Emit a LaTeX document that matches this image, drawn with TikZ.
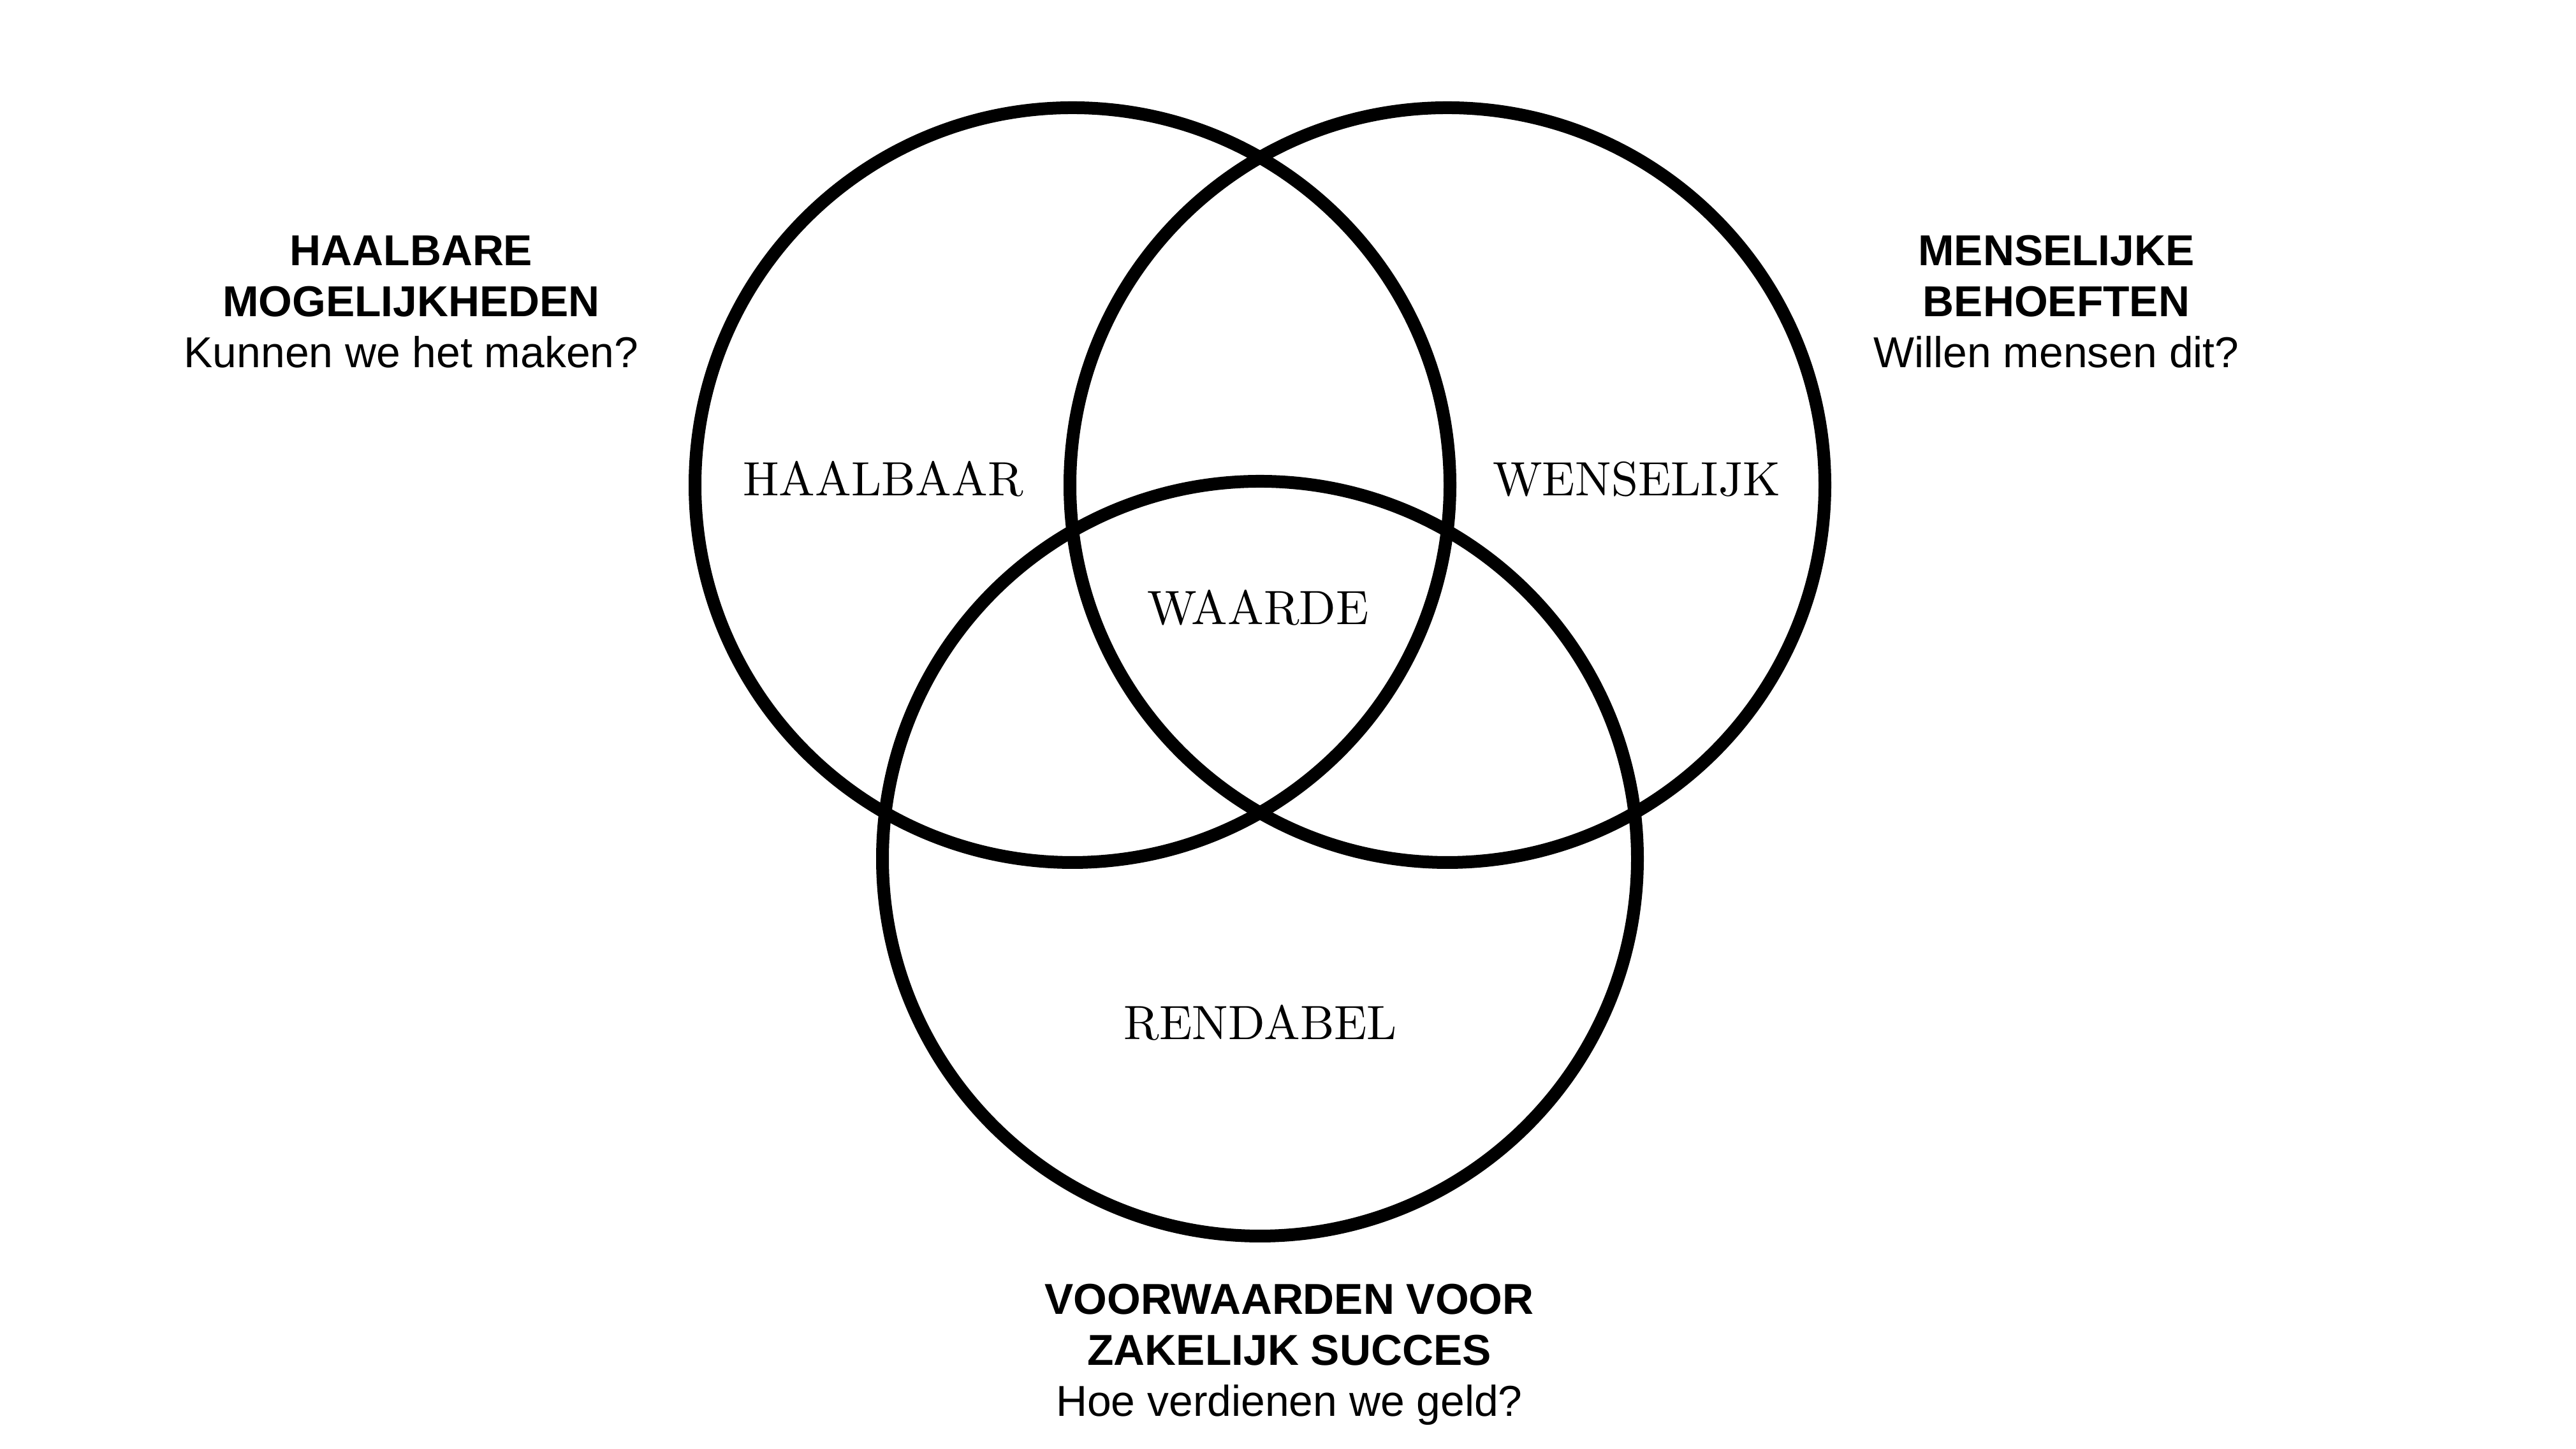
\documentclass[tikz,border=0pt]{standalone}
\usepackage{fontspec}
\newfontfamily\labelfont{Liberation Sans}
\newfontfamily\termfont{lmroman10-regular}[Extension=.otf]
\usepackage{tikz}
\usetikzlibrary{positioning}

\begin{document}
\begin{tikzpicture}[circ/.style = {draw, circle, line width=2mm, minimum size=11.84cm, inner sep=0pt},
                    term/.style = {font=\termfont\fontsize{21.5}{26}\selectfont, anchor=base, inner sep=0pt},
                    question/.style = {font=\labelfont\fontsize{19.3}{22.8}\selectfont, align=center, anchor=base, inner sep=0pt}]

\useasboundingbox (0,0) rectangle (40.4,22.73);
% Circles
\node (haalbaar) [circ] at (16.82,15.12) {};
\node (wenselijk) [circ] at (22.70,15.12) {};
\node (rendabel) [circ] at (19.76,9.26) {};

% Terms
\node (thaalbaar) [term] at (13.85,14.95) {HAALBAAR};
\node (twenselijk) [term] at (25.67,14.95) {WENSELIJK};
\node (twaarde) [term] at (19.73,12.93) {WAARDE};
\node (trendabel) [term] at (19.77,6.42) {RENDABEL};

% Questions (anchored at the last line)
\node (qhaalbaar) [question] at (6.45,16.96) {\textbf{HAALBARE}\\ \textbf{MOGELIJKHEDEN}\\ Kunnen we het maken?};
\node (qwenselijk) [question] at (32.25,16.96) {\textbf{MENSELIJKE}\\ \textbf{BEHOEFTEN}\\ Willen mensen dit?};
\node (qrendabel) [question] at (20.22,0.51) {\textbf{VOORWAARDEN VOOR}\\ \textbf{ZAKELIJK SUCCES}\\ Hoe verdienen we geld?};
\end{tikzpicture}
\end{document}
